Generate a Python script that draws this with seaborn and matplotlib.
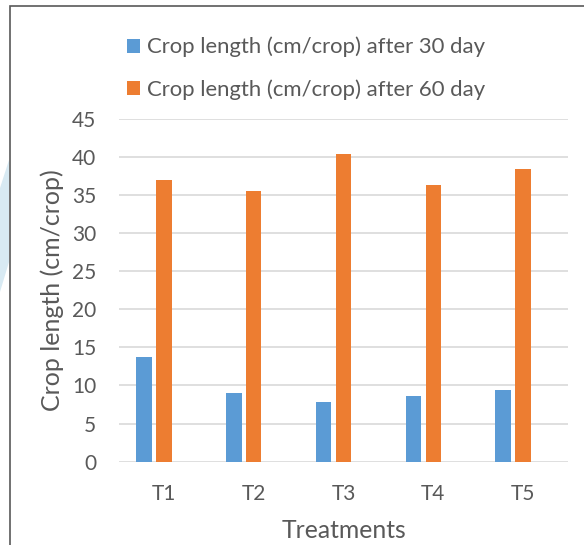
import matplotlib
matplotlib.use("Agg")
import matplotlib.pyplot as plt
import seaborn as sns
import pandas as pd
from matplotlib.patches import Rectangle, Polygon, Patch

treatments = ["T1", "T2", "T3", "T4", "T5"]
day30 = [13.7, 9.0, 7.8, 8.6, 9.4]
day60 = [37.0, 35.5, 40.3, 36.3, 38.4]
series_names = ["Crop length (cm/crop) after 30 day",
                "Crop length (cm/crop) after 60 day",
                "(empty)"]
yticks = [0, 5, 10, 15, 20, 25, 30, 35, 40, 45]

df = pd.DataFrame({
    "Treatment": treatments * 3,
    "value": day30 + day60 + [0.0] * len(treatments),
    "series": [series_names[0]] * 5 + [series_names[1]] * 5 + [series_names[2]] * 5,
})

sns.set_style("white")
plt.rcParams["font.family"] = ["Lato", "DejaVu Sans"]
TXT = "#595959"
BLUE = "#5b9bd5"
ORANGE = "#ed7d31"

fig = plt.figure(figsize=(5.84, 5.45), dpi=100)
W, H = 584, 545
ax = fig.add_axes([119 / W, 1 - 461.7 / H, (568 - 119) / W, (461.7 - 118.6) / H])

sns.barplot(data=df, x="Treatment", y="value", hue="series", hue_order=series_names,
            palette=[BLUE, ORANGE, "white"], width=0.668, gap=0.22, dodge=True,
            linewidth=0, edgecolor="none", saturation=1, legend=False, ax=ax)

ax.set_ylim(0, 45)
ax.set_xlim(-0.5, 4.5)
ax.set_yticks(yticks)
ax.yaxis.grid(True, color="#d9d9d9", linewidth=1.2)
ax.set_axisbelow(True)
for s in ax.spines.values():
    s.set_visible(False)
ax.tick_params(axis="both", length=0, labelsize=15, colors=TXT)
ax.tick_params(axis="y", pad=16.5)
ax.tick_params(axis="x", pad=16)
ax.set_xlabel("Treatments", fontsize=17.8, color=TXT, labelpad=11)
ax.set_ylabel("Crop length (cm/crop)", fontsize=18, color=TXT, labelpad=6)

handles = [Patch(facecolor=BLUE, edgecolor="none"), Patch(facecolor=ORANGE, edgecolor="none")]
leg = fig.legend(handles, series_names[:2], loc="upper left",
                 bbox_to_anchor=(107 / W, 1 - 17 / H), frameon=False,
                 fontsize=15.9, labelcolor=TXT, handlelength=0.6, handleheight=0.6,
                 handletextpad=0.3, labelspacing=0.98)

# outer chart border (cropped at right and bottom)
fig.patches.append(Rectangle((9.5 / W, -0.1), 1.2, 1 - 6 / H + 0.1, transform=fig.transFigure,
                             fill=False, edgecolor="#595959", linewidth=1.2))
# faint watermark fragment on the left edge
fig.patches.append(Polygon([(0, 1 - 188 / H), (9 / W, 1 - 160 / H), (9 / W, 1 - 262 / H), (0, 1 - 292 / H)],
                           closed=True, transform=fig.transFigure, facecolor="#d8eaf3", edgecolor="none"))

fig.savefig("out.png", dpi=100)
